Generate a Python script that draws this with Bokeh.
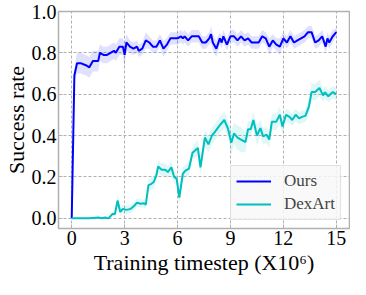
import numpy as np
from bokeh.plotting import figure
from bokeh.models import Range1d, FixedTicker, PrintfTickFormatter
from bokeh.embed import file_html
from bokeh.resources import INLINE

# ---- data ----
ours_x = [0, 0.15, 0.3, 0.5, 0.8, 1.0, 1.2, 1.5, 1.6, 1.8,
          2.0, 2.2, 2.4, 2.5, 2.7, 2.9, 3.0, 3.1, 3.3, 3.5,
          3.7, 3.8, 4.0, 4.2, 4.4, 4.6, 4.8, 5.0, 5.2, 5.4,
          5.6, 5.8, 6.0, 6.2, 6.3, 6.4, 6.6, 6.8, 7.0, 7.2,
          7.4, 7.6, 7.8, 7.9, 8.0, 8.2, 8.4, 8.5, 8.6, 8.8,
          9.0, 9.2, 9.4, 9.6, 9.8, 10.0, 10.2, 10.4, 10.6, 10.8,
          11.0, 11.2, 11.4, 11.6, 11.8, 12.0, 12.2, 12.4, 12.6, 12.8,
          13.0, 13.2, 13.4, 13.6, 13.8, 14.0, 14.2, 14.4, 14.5, 14.6,
          14.8, 15.0]
ours_y = [0, 0.69, 0.75, 0.75, 0.74, 0.73, 0.76, 0.76, 0.80, 0.79,
          0.79, 0.80, 0.81, 0.80, 0.83, 0.83, 0.79, 0.85, 0.83, 0.82,
          0.83, 0.81, 0.82, 0.86, 0.85, 0.83, 0.83, 0.86, 0.82, 0.84,
          0.87, 0.87, 0.87, 0.88, 0.87, 0.88, 0.86, 0.88, 0.88, 0.88,
          0.85, 0.85, 0.87, 0.89, 0.85, 0.82, 0.87, 0.85, 0.88, 0.84,
          0.88, 0.88, 0.86, 0.88, 0.86, 0.87, 0.85, 0.85, 0.85, 0.88,
          0.87, 0.83, 0.86, 0.84, 0.83, 0.87, 0.85, 0.88, 0.85, 0.86,
          0.87, 0.88, 0.90, 0.90, 0.85, 0.86, 0.88, 0.83, 0.87, 0.85,
          0.88, 0.90]
ours_std = [0, 0.03, 0.05, 0.05, 0.05, 0.05, 0.05, 0.05, 0.04, 0.04,
            0.04, 0.04, 0.04, 0.04, 0.04, 0.04, 0.06, 0.04, 0.03, 0.03,
            0.03, 0.03, 0.03, 0.04, 0.03, 0.03, 0.03, 0.03, 0.04, 0.03,
            0.03, 0.03, 0.03, 0.03, 0.03, 0.03, 0.03, 0.03, 0.03, 0.03,
            0.03, 0.03, 0.03, 0.04, 0.04, 0.04, 0.03, 0.03, 0.03, 0.03,
            0.03, 0.03, 0.03, 0.03, 0.03, 0.03, 0.03, 0.03, 0.03, 0.03,
            0.03, 0.04, 0.03, 0.03, 0.04, 0.03, 0.03, 0.03, 0.03, 0.03,
            0.03, 0.03, 0.03, 0.03, 0.03, 0.03, 0.03, 0.03, 0.03, 0.03,
            0.03, 0.02]

dex_x = [0, 0.5, 1.0, 1.5, 1.7, 1.9, 2.0, 2.1, 2.3, 2.45,
         2.6, 2.75, 2.9, 3.1, 3.35, 3.55, 3.7, 3.9, 4.1, 4.2,
         4.35, 4.5, 4.65, 4.8, 4.9, 5.1, 5.3, 5.45, 5.65, 5.8,
         5.95, 6.1, 6.3, 6.45, 6.55, 6.65, 6.85, 7.15, 7.3, 7.55,
         7.75, 7.95, 8.1, 8.4, 8.65, 8.85, 9.05, 9.2, 9.4, 9.6,
         9.85, 10.0, 10.15, 10.3, 10.5, 10.7, 10.85, 11.05, 11.2, 11.35,
         11.6, 11.8, 11.95, 12.15, 12.35, 12.5, 12.7, 12.9, 13.05, 13.25,
         13.45, 13.6, 13.8, 14.05, 14.25, 14.35, 14.55, 14.8, 15.0]
dex_y = [0, 0, 0, 0.003, 0, 0.003, 0, 0, 0.02, 0.02,
         0.085, 0.03, 0.045, 0.04, 0.045, 0.06, 0.075, 0.07, 0.072, 0.065,
         0.16, 0.165, 0.175, 0.207, 0.25, 0.234, 0.234, 0.223, 0.246, 0.20,
         0.19, 0.10, 0.215, 0.23, 0.235, 0.24, 0.317, 0.34, 0.246, 0.39,
         0.357, 0.40, 0.415, 0.45, 0.475, 0.436, 0.365, 0.41, 0.39, 0.38,
         0.368, 0.43, 0.43, 0.475, 0.40, 0.436, 0.396, 0.404, 0.38, 0.467,
         0.467, 0.50, 0.444, 0.50, 0.49, 0.475, 0.50, 0.483, 0.49, 0.495,
         0.54, 0.61, 0.61, 0.63, 0.594, 0.61, 0.59, 0.61, 0.60]
dex_std = [0, 0, 0, 0.003, 0, 0.003, 0, 0, 0.01, 0.01,
           0.03, 0.02, 0.02, 0.02, 0.02, 0.02, 0.02, 0.02, 0.02, 0.02,
           0.03, 0.03, 0.03, 0.03, 0.03, 0.03, 0.03, 0.03, 0.03, 0.03,
           0.03, 0.04, 0.03, 0.03, 0.03, 0.03, 0.03, 0.04, 0.04, 0.04,
           0.04, 0.04, 0.04, 0.04, 0.04, 0.04, 0.06, 0.05, 0.06, 0.06,
           0.05, 0.04, 0.04, 0.04, 0.05, 0.04, 0.04, 0.04, 0.04, 0.04,
           0.04, 0.04, 0.04, 0.03, 0.03, 0.03, 0.03, 0.03, 0.03, 0.03,
           0.04, 0.04, 0.04, 0.04, 0.03, 0.03, 0.03, 0.03, 0.03]

x_ticks = [0, 3, 6, 9, 12, 15]
y_ticks = [0.0, 0.2, 0.4, 0.6, 0.8, 1.0]
series_names = ["Ours", "DexArt"]
y_label = "Success rate"
x_label = "Training timestep (X10\u2076)"

SERIF = "Liberation Serif"
BLUE = "#0000ff"
CYAN = "#00bfbf"
GRID = "#b0b0b0"

p = figure(width=350, height=278, output_backend="svg", toolbar_location=None,
           x_range=Range1d(-0.75, 15.75), y_range=Range1d(-0.05, 1.0),
           min_border_left=52, min_border_right=1, min_border_top=11,
           min_border_bottom=50)
p.background_fill_color = "white"
p.border_fill_color = "white"
p.outline_line_color = GRID
p.outline_line_width = 1.5

oy = np.array(ours_y); os_ = np.array(ours_std)
dy = np.array(dex_y); ds = np.array(dex_std)

p.varea(x=ours_x, y1=oy - os_, y2=oy + os_, fill_color=BLUE, fill_alpha=0.12)
p.varea(x=dex_x, y1=np.clip(dy - ds, 0, None), y2=dy + ds, fill_color=CYAN, fill_alpha=0.12)
p.line(ours_x, ours_y, line_color=BLUE, line_width=2, legend_label=series_names[0])
p.line(dex_x, dex_y, line_color=CYAN, line_width=2, legend_label=series_names[1])

xa = p.xaxis[0]
ya = p.yaxis[0]
for ax in (xa, ya):
    ax.axis_line_color = None
    ax.major_tick_line_color = GRID
    ax.major_tick_in = 4
    ax.major_tick_out = 0
    ax.minor_tick_line_color = None
    ax.major_label_text_color = "black"
    ax.major_label_standoff = 2
    ax.major_label_text_font = SERIF
    ax.major_label_text_font_size = "20px"
    ax.axis_label_text_font = SERIF
    ax.axis_label_text_font_size = "22px"
    ax.axis_label_text_font_style = "normal"
    ax.axis_label_text_color = "black"
    ax.axis_label_standoff = 2

xa.ticker = FixedTicker(ticks=x_ticks)
ya.ticker = FixedTicker(ticks=y_ticks)
ya.formatter = PrintfTickFormatter(format="%.1f")
ya.axis_label = y_label
ya.axis_label_standoff = 0
xa.axis_label = x_label

p.grid.grid_line_color = GRID
p.grid.grid_line_dash = "3 2"
p.grid.grid_line_width = 1
p.xgrid.ticker = FixedTicker(ticks=x_ticks)
p.ygrid.ticker = FixedTicker(ticks=y_ticks)

lg = p.legend[0]
lg.location = "bottom_right"
lg.label_text_font = SERIF
lg.label_text_font_size = "17px"
lg.glyph_width = 35
lg.glyph_height = 20
lg.label_height = 20
lg.label_standoff = 13
lg.padding = 5
lg.spacing = 3
lg.margin = 8
lg.border_line_color = "#cccccc"
lg.border_line_width = 1
lg.background_fill_color = "#f8f8f8"
lg.background_fill_alpha = 0.85

open("out.html", "w").write(file_html(p, INLINE))
